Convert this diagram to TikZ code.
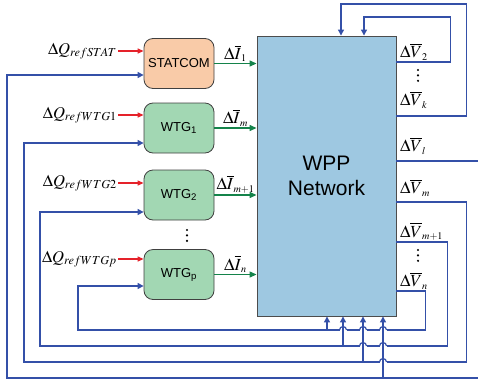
\documentclass[tikz,border=0pt]{standalone}
\usepackage{mathptmx}
\usepackage{fontspec}
\setsansfont{Liberation Sans}
\usetikzlibrary{arrows.meta}
\definecolor{statfill}{HTML}{F9CBA8}
\definecolor{wtgfill}{HTML}{A2D7B3}
\definecolor{netfill}{HTML}{9EC8E1}
\definecolor{fbblue}{HTML}{3450A8}
\definecolor{refred}{HTML}{E5222A}
\definecolor{curgreen}{HTML}{14834A}
\tikzset{
  blk/.style={draw=black!75,line width=0.8pt,rounded corners=9pt,
    minimum width=70pt,minimum height=50pt,inner sep=0pt,
    font=\sffamily\fontsize{13}{15}\selectfont},
  fb/.style={draw=fbblue,line width=1.2pt},
  fbarrow/.style={fb,-{Triangle[length=6pt,width=6pt]}},
  refarrow/.style={draw=refred,line width=1.2pt,-{Triangle[length=6pt,width=5pt]}},
  curarrow/.style={draw=curgreen,line width=1.3pt,-{Triangle[length=7pt,width=6pt]}},
  qlab/.style={anchor=east,inner sep=1pt,font=\fontsize{16.5}{18}\selectfont},
  ilab/.style={above,inner sep=1pt,font=\fontsize{17}{19}\selectfont},
  vlab/.style={anchor=south west,inner sep=1pt,xshift=2pt,font=\fontsize{17}{19}\selectfont},
}
\begin{document}
\begin{tikzpicture}[x=1pt,y=-1pt]
    \useasboundingbox (0,0) rectangle (478,383);
    \node[blk,fill=statfill] (stat) at (179,63.5) {STATCOM};
    \node[blk,fill=wtgfill] (wtg1) at (179,128) {WTG\textsubscript{1}};
    \node[blk,fill=wtgfill] (wtg2) at (179,195) {WTG\textsubscript{2}};
    \node[blk,fill=wtgfill] (wtgp) at (179,274.5) {WTG\textsubscript{p}};
    \node[draw=black!70,line width=0.9pt,fill=netfill,minimum width=139pt,
          minimum height=280pt,align=center,
          font=\sffamily\fontsize{21}{25}\selectfont] (net) at (326.5,176) {WPP\\Network};
    \foreach \dx/\dy in {187/230,418/70,418/250}
        \foreach \k in {0,6,12}
            \fill (\dx,\dy+\k*0.9) circle (1.2pt);

    \node[qlab] (qstat) at (118,51) {$\Delta Q_{refSTAT}$};
    \node[qlab] (qw1) at (118,115) {$\Delta Q_{refWTG1}$};
    \node[qlab] (qw2) at (118,183) {$\Delta Q_{refWTG2}$};
    \node[qlab] (qwp) at (118,259) {$\Delta Q_{refWTGp}$};
    \draw[refarrow] (qstat.east) -- (qstat.east -| stat.west);
    \draw[refarrow] (qw1.east) -- (qw1.east -| wtg1.west);
    \draw[refarrow] (qw2.east) -- (qw2.east -| wtg2.west);
    \draw[refarrow] (qwp.east) -- (qwp.east -| wtgp.west);

    \draw[curarrow] (stat.east) -- node[ilab]{$\Delta\overline{I}_{\scriptscriptstyle 1}$} (stat.east -| net.west);
    \draw[curarrow] (wtg1.east) -- node[ilab]{$\Delta\overline{I}_{\scriptscriptstyle m}$} (wtg1.east -| net.west);
    \draw[curarrow] (wtg2.east) -- node[ilab]{$\Delta\overline{I}_{\scriptscriptstyle m+1}$} (wtg2.east -| net.west);
    \draw[curarrow] (wtgp.east) -- node[ilab]{$\Delta\overline{I}_{\scriptscriptstyle n}$} (wtgp.east -| net.west);

    \draw[fbarrow] ([yshift=114pt]net.east) node[vlab]{$\Delta\overline{V}_{\scriptscriptstyle 2}$}
          -- ++(54,0) -- ++(0,-45) -| ([xshift=37.5pt]net.north);
    \draw[fbarrow] ([yshift=60pt]net.east) node[vlab,yshift=6pt]{$\Delta\overline{V}_{\scriptscriptstyle k}$}
          -- ++(70,0) -- ++(0,-112) -| ([xshift=14.5pt]net.north);
    \draw[fb] ([yshift=15pt]net.east) node[vlab,yshift=5pt]{$\Delta\overline{V}_{\scriptscriptstyle l}$}
          -- ++(82,0);
    \coordinate (edge) at (478,378);
    \draw[fbarrow] (edge) -- (7,378) |- ([yshift=-11.5pt]stat.west);
    \draw[fbarrow] ([yshift=-26pt]net.east) node[vlab,yshift=4pt]{$\Delta\overline{V}_{\scriptscriptstyle m}$}
          -- ++(70,0) |- (24,362) |- ([yshift=-15pt]wtg1.west);
    \draw[fbarrow] ([yshift=-66pt]net.east) node[vlab]{$\Delta\overline{V}_{\scriptscriptstyle m+1}$}
          -- ++(51,0) |- (40,346) |- ([yshift=-17pt]wtg2.west);
    \draw[fbarrow] ([yshift=-115pt]net.east) node[vlab]{$\Delta\overline{V}_{\scriptscriptstyle n}$}
          -- ++(29,0) |- (78,330) |- ([yshift=-11.5pt]wtgp.west);

    \foreach \bx/\by in {327/330,343/346,363/362,383/378}
        \draw[fbarrow] (\bx,\by) -- (\bx,0 |- net.south);
    \foreach \hx/\hy in {343/330,363/346,363/330,383/362,383/346,383/330} {
        \draw[white,line width=2pt] (\hx-3.5,\hy) -- (\hx+3.5,\hy);
        \draw[fb] (\hx,\hy-2.5) -- (\hx,\hy+2.5);
        \draw[fb] (\hx-3.5,\hy) arc[start angle=180,end angle=0,radius=3.5pt];
    }
\end{tikzpicture}
\end{document}
